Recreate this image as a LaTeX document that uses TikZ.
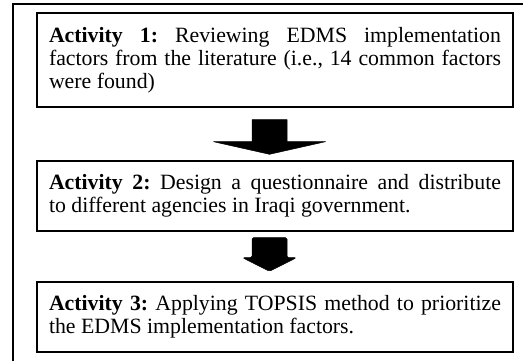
\documentclass[tikz,border=0pt]{standalone}
\usepackage{fontspec}
\setmainfont{Liberation Serif}
\usetikzlibrary{calc}
\begin{document}
\frenchspacing
\begin{tikzpicture}[x=1pt,y=-1pt,
  actbox/.style={draw, line width=1.4pt, minimum width=476pt, text width=452pt,
    align=justify, inner xsep=12pt, font=\fontsize{21.8}{23}\selectfont},
  bigarrow/.style={fill=black, draw=black, line width=0.5pt, line join=round}]
\useasboundingbox (0,0) rectangle (523,360);
\clip (0,0) rectangle (523,360);
\draw[line width=2pt] (13,4) rectangle (560,400);
\node[actbox, minimum height=94pt] (a1) at (275,60)
  {\textbf{Activity 1:} Reviewing EDMS implementation\linebreak factors from the literature (i.e., 14 common factors\linebreak were found)};
\node[actbox, minimum height=70pt] (a2) at (275,196)
  {\textbf{Activity 2:} Design a questionnaire and distribute\linebreak to different agencies in Iraqi government.};
\node[actbox, minimum height=70pt] (a3) at (275,317)
  {\textbf{Activity 3:} Applying TOPSIS method to prioritize\linebreak the EDMS implementation factors.};
\coordinate (s1) at ($(a1.south)+(-5.5,0)$);
\coordinate (t1) at ($(a2.north)+(-5.5,-6)$);
\filldraw[bigarrow] ($(s1)+(-17.5,12)$) -- ($(s1)+(17.5,12)$) -- ($(s1)+(17.5,34)$)
  -- ($(s1)+(56,34)$) -- (t1) -- ($(s1)+(-56,34)$) -- ($(s1)+(-17.5,34)$) -- cycle;
\coordinate (s2) at ($(a2.south)+(-5.5,0)$);
\coordinate (t2) at ($(a3.north)+(-5.5,-10)$);
\filldraw[bigarrow, rounded corners=1.5pt] ($(s2)+(-17.5,6)$) -- ($(s2)+(17.5,6)$) -- ($(s2)+(17.5,26)$)
  -- ($(s2)+(27,26)$) -- (t2) -- ($(s2)+(-27,26)$) -- ($(s2)+(-17.5,26)$) -- cycle;
\end{tikzpicture}
\end{document}
